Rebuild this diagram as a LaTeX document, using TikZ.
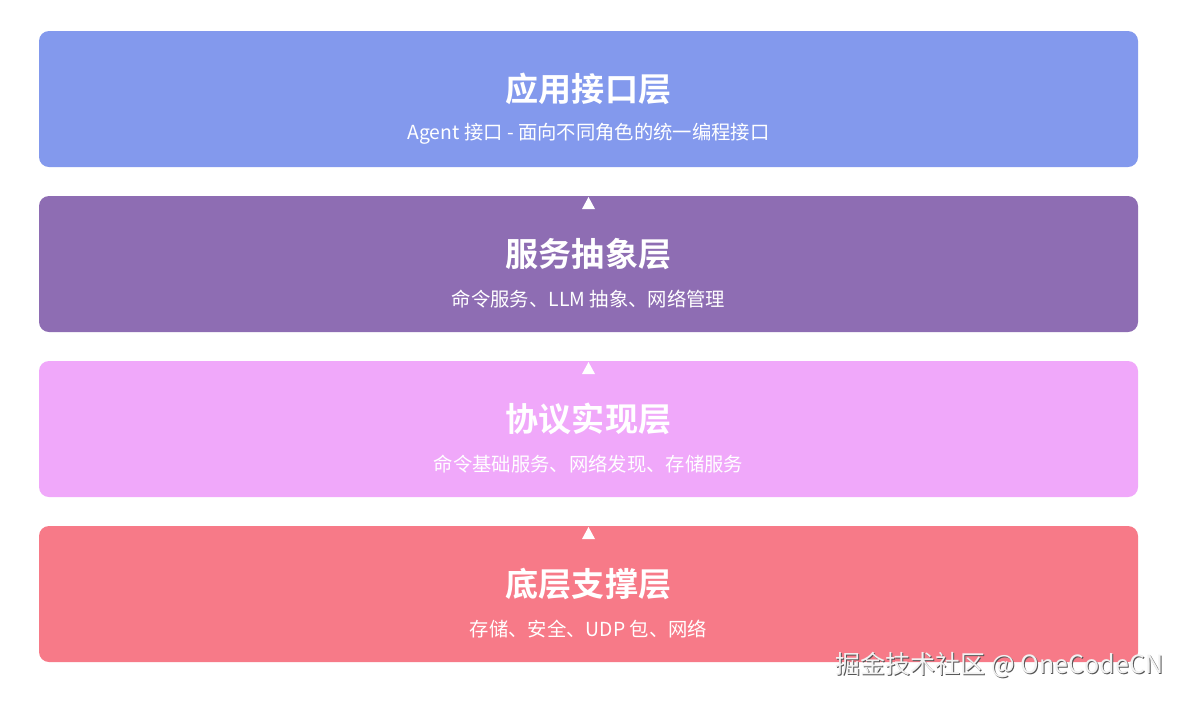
\documentclass[tikz,border=0pt]{standalone}
\usepackage{fontspec}
\newfontfamily\cjk{Noto Sans CJK SC}
\newfontfamily\cjkb{Noto Sans CJK SC Bold}
\definecolor{c1}{HTML}{8399ED}
\definecolor{c2}{HTML}{8E6DB3}
\definecolor{c3}{HTML}{F0A8FA}
\definecolor{c4}{HTML}{F77A88}
\definecolor{wm}{HTML}{F2F2F2}
\definecolor{wmsh}{HTML}{555555}
\tikzset{
  layer/.style={rounded corners=7.5pt, draw=none},
  ttl/.style={text=white, font=\cjkb\fontsize{24.8}{28}\selectfont, inner sep=0pt},
  sub/.style={text=white, font=\cjk\fontsize{14.5}{17}\selectfont, inner sep=0pt},
  tri/.style={fill=white, draw=none},
  wmark/.style={font=\cjk\fontsize{18.8}{22}\selectfont, inner sep=0pt, anchor=east}
}
\begin{document}
\begin{tikzpicture}[x=0.75pt,y=-0.75pt]
\useasboundingbox (0,0) rectangle (1185,701);
\fill[white] (0,0) rectangle (1185,701);
% boxes
\fill[layer,c1] (39,31) rectangle (1138,167);
\fill[layer,c2] (39,196) rectangle (1138,332);
\fill[layer,c3] (39,361) rectangle (1138,497);
\fill[layer,c4] (39,526) rectangle (1138,662);
\node[ttl] (t1) at (588.5,89) {应用接口层};
\node[sub] (s1) at (588.5,134) {Agent 接口 - 面向不同角色的统一编程接口};
\node[ttl] (t2) at (588.5,254) {服务抽象层};
\node[sub] (s2) at (588.5,299) {命令服务、LLM 抽象、网络管理};
\node[ttl] (t3) at (588.5,419) {协议实现层};
\node[sub] (s3) at (588.5,464) {命令基础服务、网络发现、存储服务};
\node[ttl] (t4) at (588.5,584) {底层支撑层};
\node[sub] (s4) at (588.5,629) {存储、安全、UDP 包、网络};
% triangles
\foreach \y in {196,361,526}{
  \fill[tri] (588.5,\y+1) -- (595,\y+13) -- (582,\y+13) -- cycle;
}
% watermark
\node[wmark, text=wmsh] (wms) at (1164.5,666.5) {掘金技术社区 @ OneCodeCN};
\node[wmark, text=wm] (wmt) at (1163.5,665.5) {掘金技术社区 @ OneCodeCN};
\end{tikzpicture}
\end{document}
